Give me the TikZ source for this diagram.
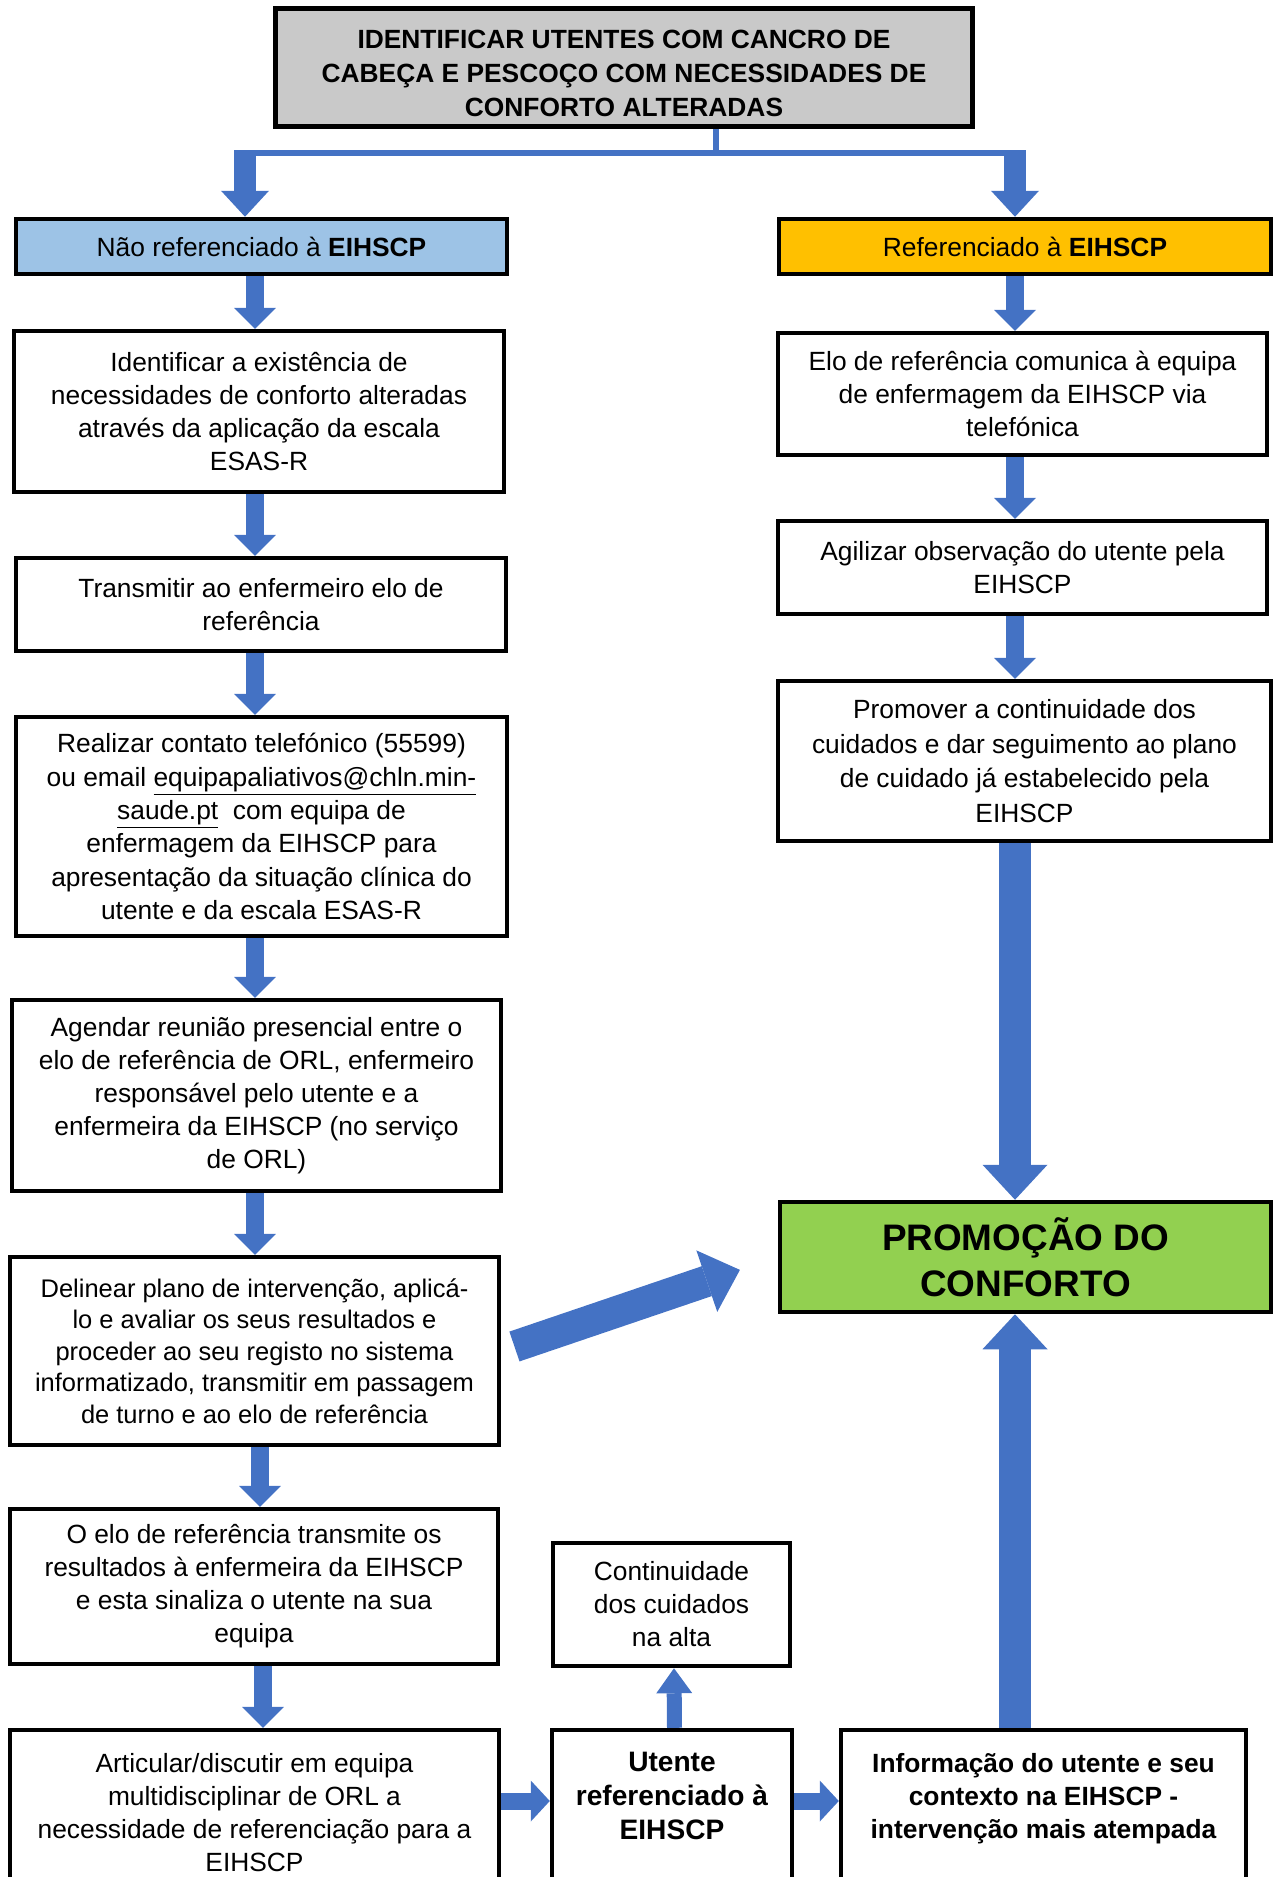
\documentclass[tikz,border=0pt]{standalone}
\usepackage{fontspec}
\setmainfont{Liberation Sans}
\usetikzlibrary{arrows.meta}
\definecolor{arrowblue}{HTML}{4472C4}
\definecolor{topgray}{HTML}{C9C9C9}
\definecolor{naoblue}{HTML}{9DC3E6}
\definecolor{reforange}{HTML}{FFC000}
\definecolor{confgreen}{HTML}{92D050}
\begin{document}
\begin{tikzpicture}[x=0.02cm, y=-0.02cm,
        box/.style = {draw=black, line width=0.09cm, fill=white, align=center, inner sep=2pt,
            font={\fontsize{15}{18.8}\selectfont}},
        blueline/.style = {draw=arrowblue, line width=0.13cm},
        tarrow/.style = {draw=arrowblue, line width=0.44cm, -{Triangle[width=0.96cm, length=0.52cm, line width=0pt]}},
        sarrow/.style = {draw=arrowblue, line width=0.35cm, -{Triangle[width=0.84cm, length=0.42cm, line width=0pt]}},
        bigarrow/.style = {draw=arrowblue, line width=0.63cm, -{Triangle[width=1.30cm, length=0.70cm, line width=0pt]}},
        marrow/.style = {draw=arrowblue, line width=0.30cm, -{Triangle[width=0.72cm, length=0.50cm, line width=0pt]}},
        harrow/.style = {draw=arrowblue, line width=0.34cm, -{Triangle[width=0.82cm, length=0.38cm, line width=0pt]}}]
        \useasboundingbox (0,0) rectangle (1277,1877);
        \node[box, fill=topgray, line width=0.1cm, minimum width=13.96cm, minimum height=2.38cm,
            font={\fontsize{15}{19.4}\selectfont\bfseries}] (top) at (624,67.5)
            {\rule{0pt}{17pt}IDENTIFICAR UTENTES COM CANCRO DE\\CABEÇA E PESCOÇO COM NECESSIDADES DE\\CONFORTO ALTERADAS};
        \node[box, fill=naoblue, minimum width=9.82cm, minimum height=1.10cm] (nao) at (261.5,246.5)
            {Não referenciado à \textbf{EIHSCP}};
        \node[box, fill=reforange, minimum width=9.84cm, minimum height=1.10cm] (ref) at (1025,246.5)
            {Referenciado à \textbf{EIHSCP}};
        \node[box, minimum width=9.80cm, minimum height=3.22cm] (l2) at (259,411.5)
            {Identificar a existência de\\necessidades de conforto alteradas\\através da aplicação da escala\\ESAS-R};
        \node[box, minimum width=9.80cm, minimum height=1.86cm] (l3) at (261,604.5)
            {Transmitir ao enfermeiro elo de\\referência};
        \node[box, minimum width=9.82cm, minimum height=4.38cm, font={\fontsize{15}{19}\selectfont}] (l4) at (261.5,826.5)
            {Realizar contato telefónico (55599)\\ou email \underline{equipapaliativos@chln.min-}\\\underline{saude.pt}\ \ com equipa de\\enfermagem da EIHSCP para\\apresentação da situação clínica do\\utente e da escala ESAS-R};
        \node[box, minimum width=9.78cm, minimum height=3.82cm] (l5) at (256.5,1095.5)
            {Agendar reunião presencial entre o\\elo de referência de ORL, enfermeiro\\responsável pelo utente e a\\enfermeira da EIHSCP (no serviço\\de ORL)};
        \node[box, minimum width=9.78cm, minimum height=3.76cm, font={\fontsize{14.5}{18}\selectfont}] (l6) at (254.5,1351)
            {Delinear plano de intervenção, aplicá-\\lo e avaliar os seus resultados e\\proceder ao seu registo no sistema\\informatizado, transmitir em passagem\\de turno e ao elo de referência};
        \node[box, minimum width=9.76cm, minimum height=3.10cm] (l7) at (254,1586.5)
            {O elo de referência transmite os\\resultados à enfermeira da EIHSCP\\e esta sinaliza o utente na sua\\equipa};
        \node[box, minimum width=9.78cm, minimum height=3.30cm] (l8) at (254.5,1812.5)
            {Articular/discutir em equipa\\multidisciplinar de ORL a\\necessidade de referenciação para a\\EIHSCP};
        \node[box, minimum width=9.78cm, minimum height=2.44cm] (r2) at (1022.5,394)
            {Elo de referência comunica à equipa\\de enfermagem da EIHSCP via\\telefónica};
        \node[box, minimum width=9.78cm, minimum height=1.86cm] (r3) at (1022.5,567.5)
            {Agilizar observação do utente pela\\EIHSCP};
        \node[box, minimum width=9.86cm, minimum height=3.20cm, font={\fontsize{15}{19.7}\selectfont}] (r4) at (1024.5,761)
            {Promover a continuidade dos\\cuidados e dar seguimento ao plano\\de cuidado já estabelecido pela\\EIHSCP};
        \node[box, fill=confgreen, minimum width=9.82cm, minimum height=2.20cm,
            font={\fontsize{21}{26}\selectfont\bfseries}] (green) at (1025.5,1257)
            {PROMOÇÃO DO\\CONFORTO};
        \node[box, minimum width=4.74cm, minimum height=2.46cm] (cont) at (671.5,1604.5)
            {Continuidade\\dos cuidados\\na alta};
        \node[box, minimum width=4.80cm, minimum height=3.30cm, font={\fontsize{16}{19.4}\selectfont\bfseries}] (utente) at (672,1812.5)
            {Utente\\referenciado à\\EIHSCP\\\mbox{}};
        \node[box, minimum width=8.10cm, minimum height=3.30cm, font={\fontsize{15}{18.8}\selectfont\bfseries}] (info) at (1043.5,1812.5)
            {Informação do utente e seu\\contexto na EIHSCP -\\intervenção mais atempada\\\mbox{}};
        \coordinate (split) at (716,153);
        \coordinate (hl) at (234,153);
        \coordinate (hr) at (1026,153);
        \coordinate (ltop) at (245,153);
        \coordinate (rtop) at (1015,153);
        \coordinate (lcol) at (255,0);
        \coordinate (rcol) at (1015,0);
        \coordinate (hy) at (0,1801);
        \draw[blueline] (top.south -| split) -- (split);
        \draw[blueline] (hl) -- (hr);
        \draw[tarrow] (ltop) -- (ltop |- nao.north);
        \draw[tarrow] (rtop) -- (rtop |- ref.north);
        \draw[sarrow] (nao.south -| lcol) -- (l2.north -| lcol);
        \draw[sarrow] (l2.south -| lcol) -- (l3.north -| lcol);
        \draw[sarrow] (l3.south -| lcol) -- (l4.north -| lcol);
        \draw[sarrow] (l4.south -| lcol) -- (l5.north -| lcol);
        \draw[sarrow] (l5.south -| lcol) -- (l6.north -| lcol);
        \draw[sarrow] ([xshift=0.1cm]l6.south -| lcol) -- ([xshift=0.1cm]l7.north -| lcol);
        \draw[sarrow] ([xshift=0.16cm]l7.south -| lcol) -- ([xshift=0.16cm]l8.north -| lcol);
        \draw[sarrow] (ref.south -| rcol) -- (r2.north -| rcol);
        \draw[sarrow] (r2.south -| rcol) -- (r3.north -| rcol);
        \draw[sarrow] (r3.south -| rcol) -- (r4.north -| rcol);
        \draw[bigarrow] (r4.south -| rcol) -- (green.north -| rcol);
        \draw[bigarrow] (info.north -| rcol) -- (green.south -| rcol);
        \draw[bigarrow, shorten <=0.28cm, shorten >=0.8cm] (l6.east) -- (green.west);
        \draw[marrow] ([xshift=0.05cm]utente.north) -- ([xshift=0.05cm]cont.south);
        \draw[harrow] (l8.east |- hy) -- (utente.west |- hy);
        \draw[harrow] (utente.east |- hy) -- (info.west |- hy);
\end{tikzpicture}
\end{document}
